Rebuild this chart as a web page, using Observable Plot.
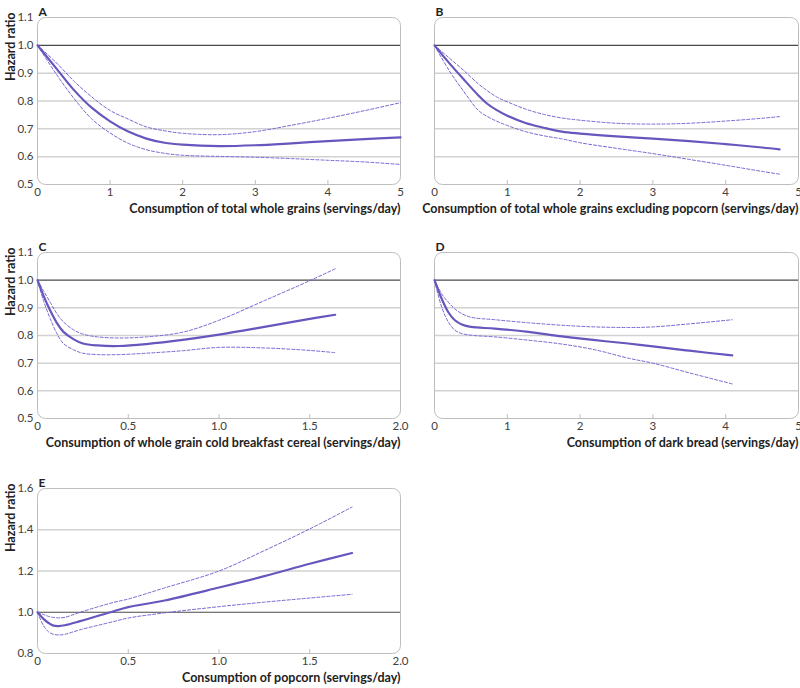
<!DOCTYPE html>
<html>
<head>
<meta charset="utf-8">
<script src="https://cdn.jsdelivr.net/npm/d3@7"></script>
<script src="https://cdn.jsdelivr.net/npm/@observablehq/plot@0.6"></script>
<style>
  body { margin: 0; background: #fff; }
  #root { position: relative; width: 800px; height: 688px; overflow: hidden; background: #fff; }
  #root svg { position: absolute; }
</style>
</head>
<body>
<div id="root"></div>
<script>
// ---------- Data ----------
// Panel A: total whole grains
const xA  = [0, 0.25, 0.5, 0.75, 1.0, 1.25, 1.5, 1.75, 2.0, 2.5, 3.0, 3.5, 4.0, 4.5, 5.0];
const hrA = [1.0, 0.92, 0.84, 0.775, 0.727, 0.69, 0.665, 0.65, 0.643, 0.638, 0.641, 0.648, 0.656, 0.663, 0.669];
const upA = [1.0, 0.94, 0.872, 0.814, 0.766, 0.735, 0.707, 0.693, 0.684, 0.679, 0.69, 0.713, 0.738, 0.765, 0.794];
const loA = [1.0, 0.90, 0.81, 0.735, 0.685, 0.648, 0.625, 0.612, 0.605, 0.601, 0.598, 0.593, 0.587, 0.581, 0.572];

// Panel B: total whole grains excluding popcorn
const xB  = [0, 0.2, 0.4, 0.6, 0.72, 0.85, 1.0, 1.25, 1.5, 1.75, 2.0, 2.5, 3.0, 3.5, 4.0, 4.5, 4.74];
const hrB = [1.0, 0.937, 0.878, 0.821, 0.791, 0.768, 0.747, 0.721, 0.704, 0.69, 0.683, 0.673, 0.665, 0.656, 0.645, 0.633, 0.626];
const upB = [1.0, 0.955, 0.91, 0.862, 0.838, 0.815, 0.797, 0.771, 0.752, 0.739, 0.731, 0.72, 0.717, 0.72, 0.728, 0.738, 0.744];
const loB = [1.0, 0.91, 0.835, 0.767, 0.745, 0.728, 0.712, 0.69, 0.675, 0.664, 0.65, 0.63, 0.611, 0.59, 0.569, 0.547, 0.537];

// Panel C: whole grain cold breakfast cereal
const xC  = [0, 0.033, 0.07, 0.107, 0.143, 0.2, 0.25, 0.33, 0.45, 0.6, 0.8, 1.0, 1.25, 1.5, 1.64];
const hrC = [1.0, 0.944, 0.89, 0.845, 0.813, 0.786, 0.771, 0.764, 0.762, 0.769, 0.784, 0.803, 0.831, 0.86, 0.875];
const upC = [1.0, 0.962, 0.92, 0.879, 0.849, 0.82, 0.805, 0.795, 0.791, 0.795, 0.812, 0.855, 0.926, 0.998, 1.041];
const loC = [1.0, 0.926, 0.861, 0.807, 0.771, 0.748, 0.736, 0.731, 0.731, 0.736, 0.745, 0.757, 0.755, 0.746, 0.738];

// Panel D: dark bread
const xD  = [0, 0.1, 0.19, 0.28, 0.375, 0.5, 0.83, 1.29, 1.75, 2.21, 2.66, 3.0, 3.5, 4.09];
const hrD = [1.0, 0.932, 0.884, 0.855, 0.84, 0.831, 0.825, 0.813, 0.797, 0.783, 0.771, 0.761, 0.745, 0.728];
const upD = [1.0, 0.95, 0.92, 0.896, 0.879, 0.866, 0.857, 0.846, 0.837, 0.831, 0.829, 0.831, 0.842, 0.857];
const loD = [1.0, 0.902, 0.849, 0.819, 0.807, 0.801, 0.795, 0.783, 0.769, 0.748, 0.718, 0.70, 0.665, 0.625];

// Panel E: popcorn
const xE  = [0, 0.033, 0.061, 0.088, 0.116, 0.15, 0.235, 0.42, 0.5, 0.7, 1.0, 1.25, 1.5, 1.733];
const hrE = [1.0, 0.968, 0.948, 0.935, 0.933, 0.937, 0.957, 1.005, 1.025, 1.057, 1.12, 1.175, 1.235, 1.287];
const upE = [1.0, 0.989, 0.98, 0.975, 0.973, 0.975, 1.0, 1.048, 1.064, 1.118, 1.2, 1.299, 1.404, 1.51];
const loE = [1.0, 0.935, 0.905, 0.893, 0.89, 0.893, 0.915, 0.955, 0.972, 0.997, 1.027, 1.049, 1.069, 1.087];

// Tick values and labels
const xTicks5 = [0, 1, 2, 3, 4, 5];
const xTickLabels5 = ["0", "1", "2", "3", "4", "5"];
const xTicks2 = [0, 0.5, 1.0, 1.5, 2.0];
const xTickLabels2 = ["0", "0.5", "1.0", "1.5", "2.0"];
const yTicksLow = [0.5, 0.6, 0.7, 0.8, 0.9, 1.0, 1.1];
const yTickLabelsLow = ["0.5", "0.6", "0.7", "0.8", "0.9", "1.0", "1.1"];
const yGridLow = [0.6, 0.7, 0.8, 0.9];
const yTicksE = [0.8, 1.0, 1.2, 1.4, 1.6];
const yTickLabelsE = ["0.8", "1.0", "1.2", "1.4", "1.6"];
const yGridE = [1.2, 1.4];

const panelLetters = ["A", "B", "C", "D", "E"];
const xLabels = [
  "Consumption of total whole grains (servings/day)",
  "Consumption of total whole grains excluding popcorn (servings/day)",
  "Consumption of whole grain cold breakfast cereal (servings/day)",
  "Consumption of dark bread (servings/day)",
  "Consumption of popcorn (servings/day)"
];
const yLabel = "Hazard ratio";

// ---------- Styles ----------
const FONT = "Lato, 'Open Sans', sans-serif";
const SOLID = "#6656bd";
const DASH = "#7566d2";
const FRAME = "#bdbdbd";
const GRID = "#d2d2d2";
const REF = "#4a4a4a";
const LABEL_SIZE = 12.5;
const TICK_SIZE = 11.5;

const tickShape = { draw(context, l) { context.moveTo(0, 0); context.lineTo(0, -l); } };

function panel(p) {
  const rows = p.x.map((v, i) => ({ x: v, hr: p.hr[i], up: p.up[i], lo: p.lo[i] }));
  const xFmt = new Map(p.xTicks.map((t, i) => [t, p.xTickLabels[i]]));
  const yFmt = new Map(p.yTicks.map((t, i) => [t, p.yTickLabels[i]]));
  const inner = p.xTicks.slice(1, -1);
  const marks = [
    Plot.ruleY(p.yGrid, { stroke: GRID, strokeWidth: 1.5 }),
    Plot.ruleY([1], { stroke: REF, strokeWidth: 1.1 }),
    Plot.frame({ rx: 8, ry: 8, stroke: FRAME, strokeWidth: 1 }),
    Plot.vector(inner, { x: d => d, frameAnchor: "bottom", length: 4, anchor: "start", stroke: FRAME, strokeWidth: 1, shape: tickShape }),
    Plot.axisX(p.xTicks, { tickSize: 0, tickPadding: 3, tickFormat: d => xFmt.get(d), label: null, fontSize: TICK_SIZE, fill: "#404040" }),
    Plot.line(rows, { x: "x", y: "up", stroke: DASH, strokeWidth: 1, strokeDasharray: "3,2", curve: "catmull-rom" }),
    Plot.line(rows, { x: "x", y: "lo", stroke: DASH, strokeWidth: 1, strokeDasharray: "3,2", curve: "catmull-rom" }),
    Plot.line(rows, { x: "x", y: "hr", stroke: SOLID, strokeWidth: 2.2, curve: "catmull-rom" }),
    Plot.text([p.letter], { frameAnchor: "top-left", dx: 1, dy: -10, textAnchor: "start", fontWeight: "bold", fontSize: 12, fill: "#222" }),
    Plot.text([p.xLabel], { frameAnchor: "bottom-right", dy: 28, textAnchor: "end", fontWeight: "bold", fontSize: LABEL_SIZE, fill: "#222" })
  ];
  if (p.showY) {
    marks.push(Plot.axisY(p.yTicks, { tickSize: 0, tickPadding: 4, tickFormat: d => yFmt.get(d), label: null, fontSize: TICK_SIZE, fill: "#404040" }));
    marks.push(Plot.text([yLabel], { frameAnchor: "top-left", dx: -31, dy: -5, rotate: -90, textAnchor: "end", fontWeight: "bold", fontSize: LABEL_SIZE, fill: "#222" }));
  }
  const svg = Plot.plot({
    width: p.width,
    height: p.height,
    marginLeft: p.marginLeft,
    marginRight: 2,
    marginTop: 17,
    marginBottom: 33,
    x: { domain: p.xDomain, axis: null },
    y: { domain: p.yDomain, axis: null },
    style: { fontFamily: FONT, fontSize: TICK_SIZE + "px", color: "#333", background: "transparent", overflow: "visible" },
    marks
  });
  svg.style.left = p.left + "px";
  svg.style.top = p.top + "px";
  document.getElementById("root").appendChild(svg);
}

panel({ letter: panelLetters[0], xLabel: xLabels[0], x: xA, hr: hrA, up: upA, lo: loA,
  xDomain: [0, 5], xTicks: xTicks5, xTickLabels: xTickLabels5,
  yDomain: [0.5, 1.1], yTicks: yTicksLow, yTickLabels: yTickLabelsLow, yGrid: yGridLow,
  showY: true, left: 0, top: 0, width: 402, height: 217, marginLeft: 37 });

panel({ letter: panelLetters[1], xLabel: xLabels[1], x: xB, hr: hrB, up: upB, lo: loB,
  xDomain: [0, 5], xTicks: xTicks5, xTickLabels: xTickLabels5,
  yDomain: [0.5, 1.1], yTicks: yTicksLow, yTickLabels: yTickLabelsLow, yGrid: yGridLow,
  showY: false, left: 400, top: 0, width: 400, height: 217, marginLeft: 34 });

panel({ letter: panelLetters[2], xLabel: xLabels[2], x: xC, hr: hrC, up: upC, lo: loC,
  xDomain: [0, 2], xTicks: xTicks2, xTickLabels: xTickLabels2,
  yDomain: [0.5, 1.1], yTicks: yTicksLow, yTickLabels: yTickLabelsLow, yGrid: yGridLow,
  showY: true, left: 0, top: 235, width: 402, height: 216, marginLeft: 37 });

panel({ letter: panelLetters[3], xLabel: xLabels[3], x: xD, hr: hrD, up: upD, lo: loD,
  xDomain: [0, 5], xTicks: xTicks5, xTickLabels: xTickLabels5,
  yDomain: [0.5, 1.1], yTicks: yTicksLow, yTickLabels: yTickLabelsLow, yGrid: yGridLow,
  showY: false, left: 400, top: 235, width: 400, height: 216, marginLeft: 34 });

panel({ letter: panelLetters[4], xLabel: xLabels[4], x: xE, hr: hrE, up: upE, lo: loE,
  xDomain: [0, 2], xTicks: xTicks2, xTickLabels: xTickLabels2,
  yDomain: [0.8, 1.6], yTicks: yTicksE, yTickLabels: yTickLabelsE, yGrid: yGridE,
  showY: true, left: 0, top: 471, width: 402, height: 215, marginLeft: 37 });
</script>
</body>
</html>
